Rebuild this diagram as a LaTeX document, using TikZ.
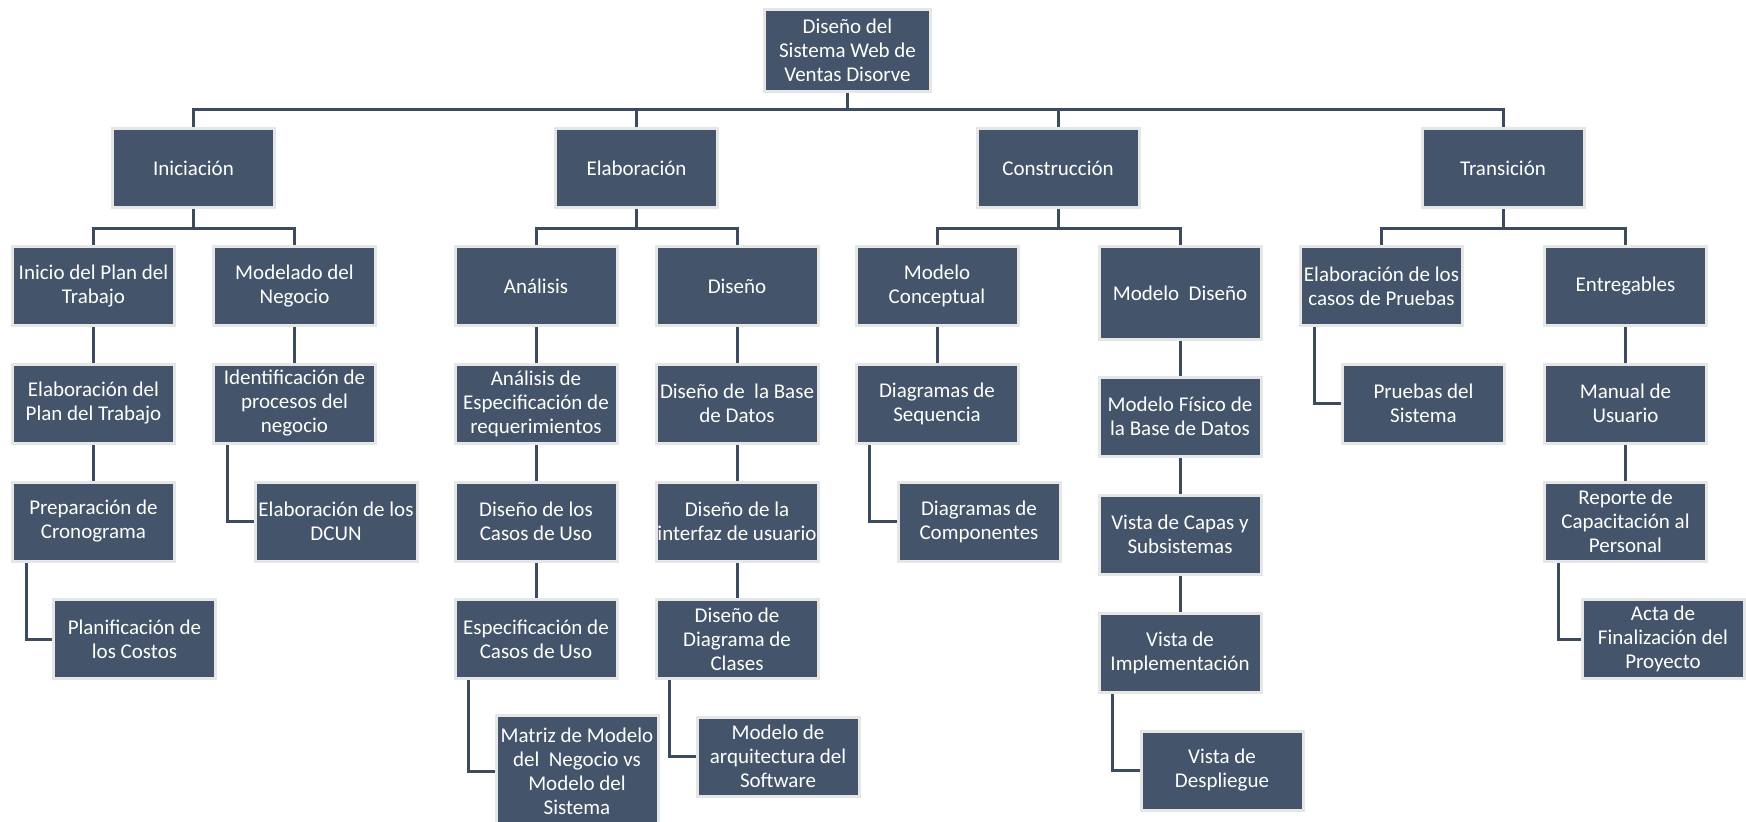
\documentclass[tikz,border=0pt]{standalone}
\usepackage{fontspec}
\usetikzlibrary{calc,backgrounds}
\newfontfamily\boxfont{Carlito}
\definecolor{boxfill}{HTML}{44546A}
\definecolor{boxedge}{HTML}{E6E6E6}
\definecolor{linkcol}{HTML}{3D4B60}
\tikzset{
  wbs/.style={rectangle, fill=boxfill, draw=boxedge, line width=3pt,
    minimum width=162pt, minimum height=79pt, inner sep=0pt, align=center,
    text=white, font={\boxfont\fontsize{21}{24}\selectfont}},
  link/.style={draw=linkcol, line width=3pt},
}
\begin{document}
\begin{tikzpicture}[x=1pt, y=-1pt]
\useasboundingbox (0,0) rectangle (1746,822);
\clip (0,0) rectangle (1746,822);

% root
\node[wbs, minimum width=166pt, minimum height=82pt] (root) at (847.5,50) {Diseño del\\Sistema Web de\\Ventas Disorve};

% phases
\node[wbs] (ini) at (193.5,168) {Iniciación};
\node[wbs] (ela) at (636.5,168) {Elaboración};
\node[wbs] (con) at (1058,168) {Construcción};
\node[wbs] (tra) at (1503,168) {Transición};

% second level
\node[wbs] (inicio) at (93.5,286) {Inicio del Plan del\\Trabajo};
\node[wbs] (modneg) at (294.5,286) {Modelado del\\Negocio};
\node[wbs] (anal) at (536,286) {Análisis};
\node[wbs] (dise) at (737,286) {Diseño};
\node[wbs] (mcon) at (937,286) {Modelo\\Conceptual};
\node[wbs, minimum height=93pt] (mdis) at (1180,293) {Modelo\ \ Diseño};
\node[wbs] (casos) at (1381.5,286) {Elaboración de los\\casos de Pruebas};
\node[wbs] (entr) at (1625.5,286) {Entregables};

% third level
\node[wbs] (elabplan) at (93.5,403.5) {Elaboración del\\Plan del Trabajo};
\node[wbs] (ident) at (294.5,403.5) {Identificación de\\procesos del\\negocio};
\node[wbs] (aesp) at (536,403.5) {Análisis de\\Especificación de\\requerimientos};
\node[wbs] (dbase) at (737,403.5) {Diseño de\ \ la Base\\de Datos};
\node[wbs] (dseq) at (937,403.5) {Diagramas de\\Sequencia};
\node[wbs] (mfis) at (1180,416.5) {Modelo Físico de\\la Base de Datos};
\node[wbs] (pruebas) at (1423.5,403.5) {Pruebas del\\Sistema};
\node[wbs] (manual) at (1625.5,403.5) {Manual de\\Usuario};

% fourth level
\node[wbs] (prep) at (93.5,521.5) {Preparación de\\Cronograma};
\node[wbs] (dcun) at (336,521.5) {Elaboración de los\\DCUN};
\node[wbs] (dcu) at (536,521.5) {Diseño de los\\Casos de Uso};
\node[wbs] (dint) at (737,521.5) {Diseño de la\\interfaz de usuario};
\node[wbs] (dcomp) at (979,521.5) {Diagramas de\\Componentes};
\node[wbs] (vcap) at (1180,534.5) {Vista de Capas y\\Subsistemas};
\node[wbs] (rep) at (1625.5,521.5) {Reporte de\\Capacitación al\\Personal};

% fifth level
\node[wbs] (planif) at (134.5,639) {Planificación de\\los Costos};
\node[wbs] (ecu) at (536,639) {Especificación de\\Casos de Uso};
\node[wbs] (dclas) at (737,639) {Diseño de\\Diagrama de\\Clases};
\node[wbs] (vimp) at (1180,652.5) {Vista de\\Implementación};
\node[wbs] (acta) at (1663,639) {Acta de\\Finalización del\\Proyecto};

% sixth level
\node[wbs, minimum height=111pt] (matriz) at (577,771) {Matriz de Modelo\\del\ \ Negocio vs\\Modelo del\\Sistema};
\node[wbs] (arq) at (778,756.5) {Modelo de\\arquitectura del\\Software};
\node[wbs] (desp) at (1222,770.5) {Vista de\\Despliegue};

\begin{scope}[on background layer]
  \fill[white] (0,0) rectangle (1746,822);
  % root to phases
  \foreach \p in {ini,ela,con,tra}
    \draw[link] (root.south) -- ++(0,17) -| (\p.north);
  % phases to second level
  \foreach \p/\c in {ini/inicio,ini/modneg,ela/anal,ela/dise,con/mcon,con/mdis,tra/casos,tra/entr}
    \draw[link] (\p.south) -- ++(0,19) -| (\c.north);
  % straight descents
  \foreach \p/\c in {inicio/elabplan,elabplan/prep,modneg/ident,anal/aesp,aesp/dcu,dcu/ecu,
                     dise/dbase,dbase/dint,dint/dclas,mcon/dseq,mdis/mfis,mfis/vcap,vcap/vimp,
                     entr/manual,manual/rep}
    \draw[link] (\p.south) -- (\c.north);
  % side branches
  \foreach \p/\c in {prep/planif,ident/dcun,ecu/matriz,dclas/arq,dseq/dcomp,vimp/desp,casos/pruebas,rep/acta}
    \draw[link] ($(\p.south west)+(15,0)$) |- (\c.west);
\end{scope}
\end{tikzpicture}
\end{document}
